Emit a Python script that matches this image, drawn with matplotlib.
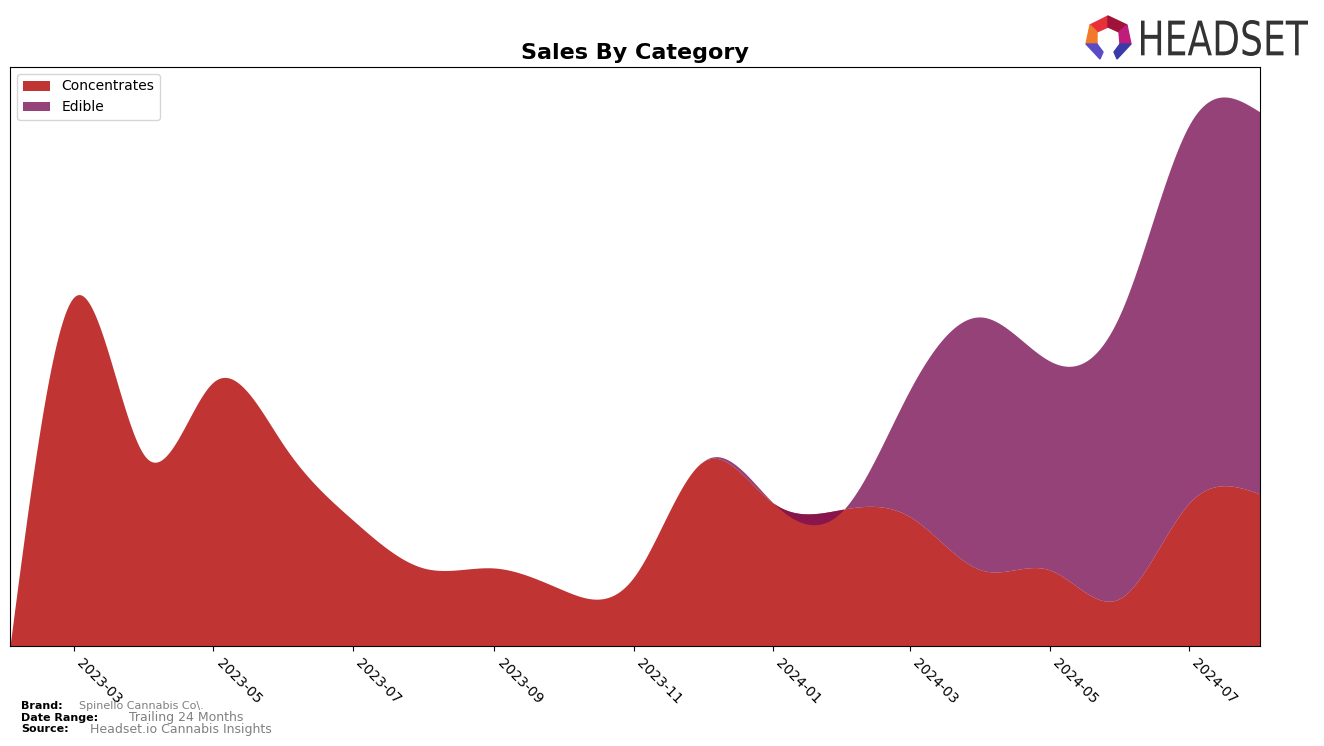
import numpy as np
import pandas as pd
import matplotlib
matplotlib.use('Agg')
import matplotlib.pyplot as plt
import matplotlib.dates as mdates
from matplotlib.patches import Polygon, PathPatch
from matplotlib.textpath import TextPath
from matplotlib.font_manager import FontProperties
from matplotlib.transforms import Affine2D, IdentityTransform

# monthly sales (arbitrary units)
months = pd.date_range('2023-02-01', '2024-08-01', freq='MS')
concentrates = [0, 349, 190, 264, 200, 126, 78, 78, 56, 69, 184, 143,
                137, 129, 76, 76, 48, 143, 152]
edible_months = pd.date_range('2023-12-01', '2024-08-01', freq='MS')
edible = [0, 0, 0, 128, 253, 209, 285, 378, 382]

tick_dates = pd.date_range('2023-03-01', '2024-07-01', freq='2MS')


def natural_spline(x, y, xs):
    x = np.asarray(x, float)
    y = np.asarray(y, float)
    n = len(x)
    h = np.diff(x)
    A = np.zeros((n, n))
    r = np.zeros(n)
    A[0, 0] = 1
    A[-1, -1] = 1
    for i in range(1, n - 1):
        A[i, i - 1] = h[i - 1]
        A[i, i] = 2 * (h[i - 1] + h[i])
        A[i, i + 1] = h[i]
        r[i] = 6 * ((y[i + 1] - y[i]) / h[i] - (y[i] - y[i - 1]) / h[i - 1])
    M = np.linalg.solve(A, r)
    idx = np.clip(np.searchsorted(x, xs) - 1, 0, n - 2)
    x0, x1 = x[idx], x[idx + 1]
    hh = x1 - x0
    a = (x1 - xs) / hh
    b = (xs - x0) / hh
    return (a * y[idx] + b * y[idx + 1]
            + ((a ** 3 - a) * M[idx] + (b ** 3 - b) * M[idx + 1]) * hh ** 2 / 6)


xc = mdates.date2num(months)
xe = mdates.date2num(edible_months)
xs = np.linspace(xc[0], xc[-1], 2000)
conc_s = natural_spline(xc, concentrates, xs)
mask = xs >= xe[0]
xs_e = xs[mask]
edib_s = natural_spline(xe, edible, xs_e)
conc_e = conc_s[mask]

fig = plt.figure(figsize=(13.24, 7.46), dpi=100)
ax = fig.add_axes([10 / 1324, 100 / 746, 1250 / 1324, 579 / 746])

ax.fill_between(xs, 0, conc_s, color='#c13434', linewidth=0, label='Concentrates')
ax.fill_between(xs_e, conc_e, conc_e + edib_s, color='#780d53', alpha=0.78,
                linewidth=0, label='Edible')

ax.set_xlim(xc[0], xc[-1])
ax.set_ylim(0, 579)
ax.set_yticks([])
ax.set_xticks(mdates.date2num(tick_dates))
ax.set_xticklabels([d.strftime('%Y-%m') for d in tick_dates], rotation=-45,
                   ha='left', va='top', fontsize=10)
ax.tick_params(axis='x', pad=4)
ax.set_title('Sales By Category', fontsize=16, fontweight='bold', pad=6)
ax.legend(loc='upper left', fontsize=10, handlelength=2)

# footer
fig.text(21 / 1324, 1 - 706 / 746, 'Brand:', fontsize=8, fontweight='bold', va='center')
fig.text(79 / 1324, 1 - 706 / 746, 'Spinello Cannabis Co\\.', fontsize=8, color='gray', va='center')
fig.text(21 / 1324, 1 - 718 / 746, 'Date Range:', fontsize=8, fontweight='bold', va='center')
fig.text(129 / 1324, 1 - 718 / 746, 'Trailing 24 Months', fontsize=9, color='gray', va='center')
fig.text(21 / 1324, 1 - 729 / 746, 'Source:', fontsize=8, fontweight='bold', va='center')
fig.text(90 / 1324, 1 - 729 / 746, 'Headset.io Cannabis Insights', fontsize=9, color='gray', va='center')

# logo wordmark, squeezed into its box (pixels)
tp = TextPath((0, 0), 'HEADSET', size=40, prop=FontProperties(family='DejaVu Sans'))
bb = tp.get_extents()
x0, x1, ytop, ybot = 1141, 1308, 20, 56
sx = (x1 - x0) / bb.width
sy = (ybot - ytop) / bb.height
tr = Affine2D().translate(-bb.x0, -bb.y0).scale(sx, sy).translate(x0, 746 - ybot)
fig.patches.append(PathPatch(tr.transform_path(tp), color='#333333', lw=0,
                             transform=IdentityTransform(), figure=fig))


def px(points):
    return [(x / 1324, 1 - y / 746) for x, y in points]


logo_parts = [
    ([(1090, 25), (1108, 16), (1108, 27), (1097, 32)], '#e8303a'),
    ([(1108, 16), (1127, 25), (1119, 32), (1108, 27)], '#a0123a'),
    ([(1090, 25), (1097, 32), (1097, 44), (1086, 44)], '#f07a2a'),
    ([(1127, 25), (1131, 44), (1120, 44), (1119, 32)], '#c01c7c'),
    ([(1086, 44), (1097, 44), (1103, 52), (1100, 59)], '#5a4ac8'),
    ([(1131, 44), (1120, 44), (1114, 52), (1117, 59)], '#3a3aa8'),
]
for pts, col in logo_parts:
    fig.patches.append(Polygon(px(pts), closed=True, color=col,
                               transform=fig.transFigure, figure=fig))

plt.savefig('out.png', dpi=100)
